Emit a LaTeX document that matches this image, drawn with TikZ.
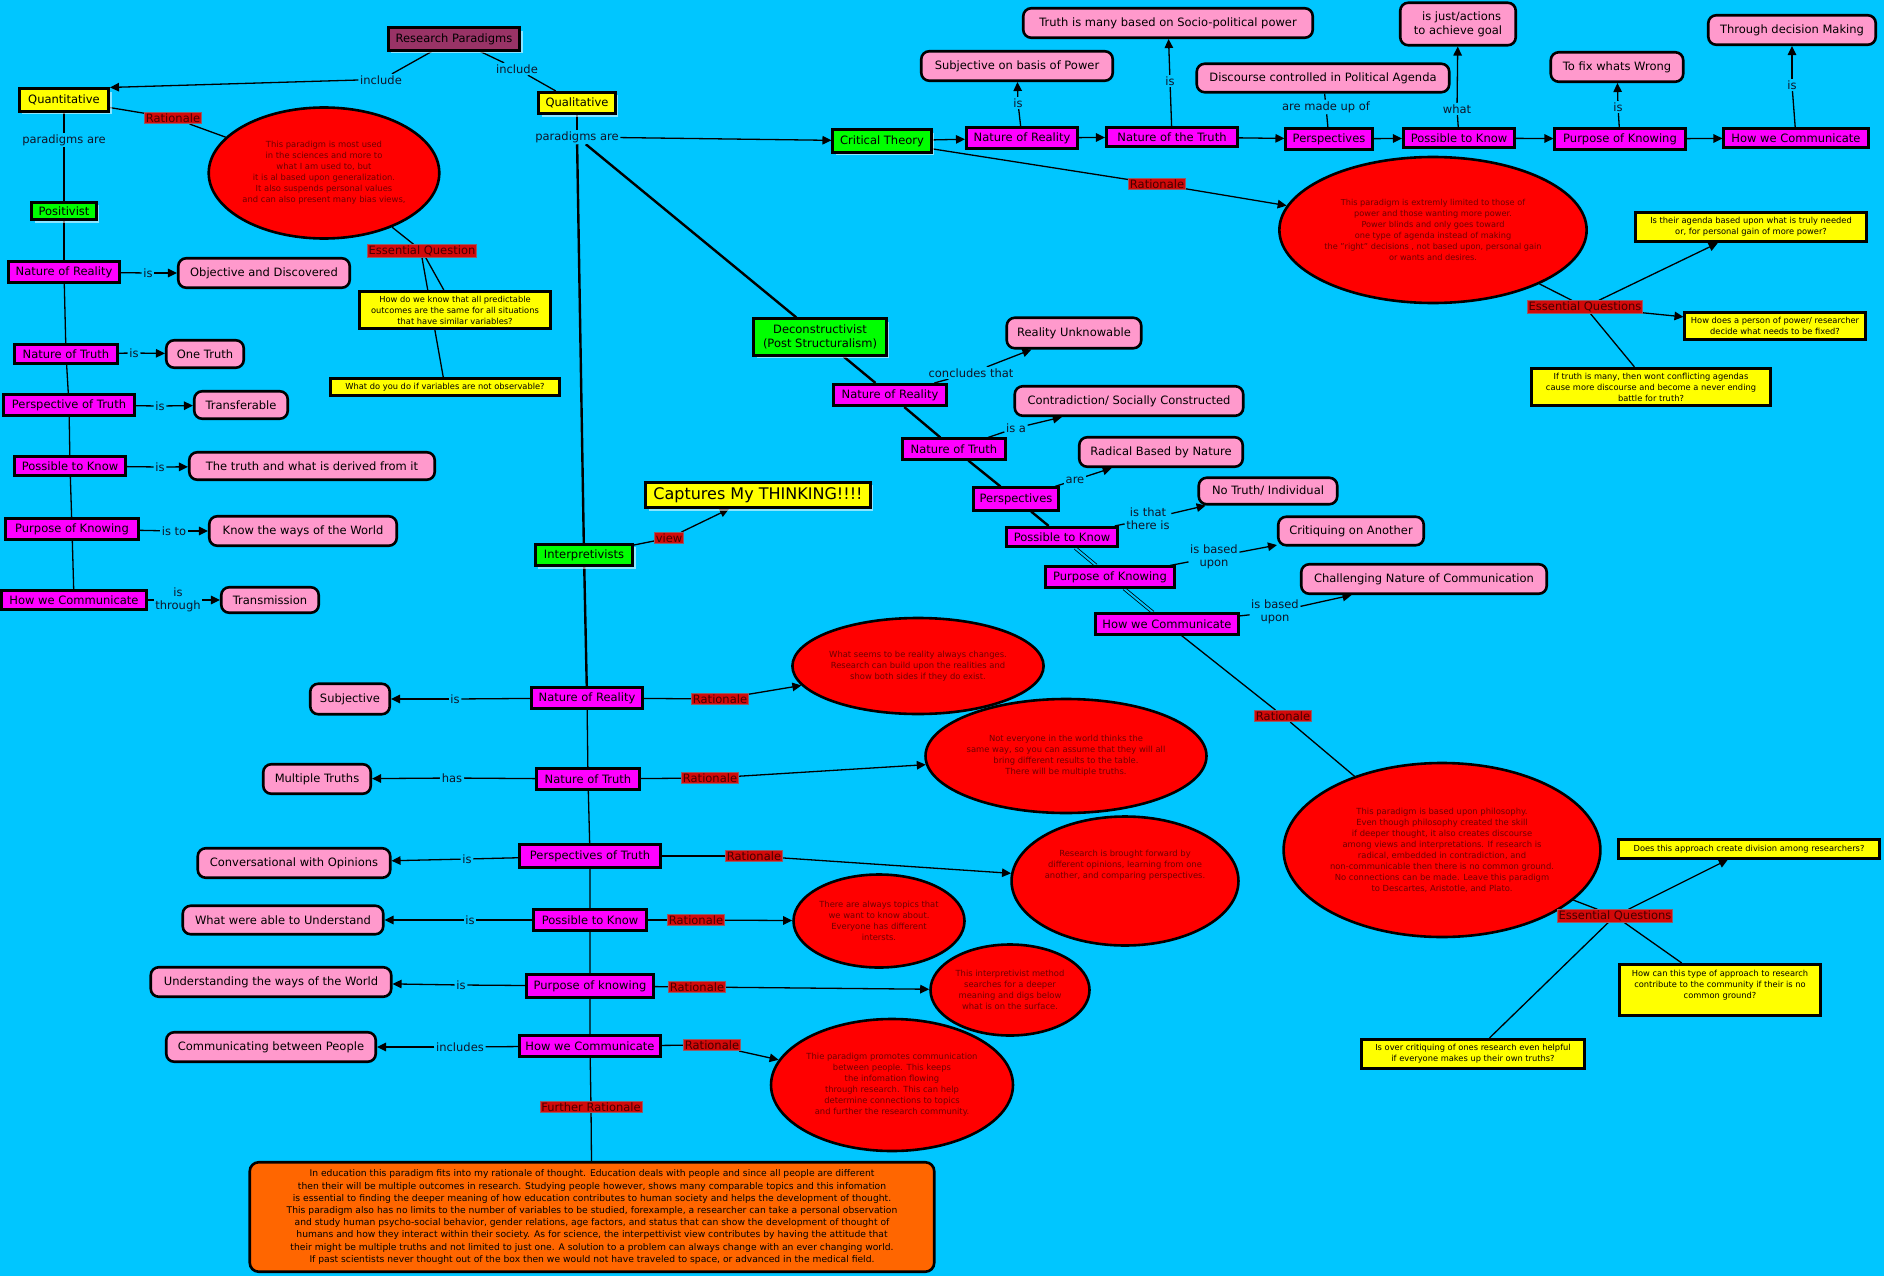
\documentclass[tikz,border=0pt]{standalone}
\usepackage{fontspec}
\setmainfont{DejaVu Sans}
\usetikzlibrary{shapes.geometric,arrows.meta,shadows}
\definecolor{bgc}{RGB}{0,198,255}
\definecolor{rpc}{RGB}{153,51,102}
\definecolor{yelc}{RGB}{255,255,0}
\definecolor{grnc}{RGB}{0,255,0}
\definecolor{magc}{RGB}{255,0,255}
\definecolor{pnkc}{RGB}{255,153,204}
\definecolor{orc}{RGB}{255,102,0}
\definecolor{rlc}{RGB}{210,10,10}
\definecolor{rld}{RGB}{150,90,100}
\definecolor{rlt}{RGB}{70,0,0}
\definecolor{elt}{RGB}{110,0,0}
\definecolor{lkc}{RGB}{15,20,40}
\newcommand\fsz[2]{\fontsize{#1pt}{#2pt}\selectfont}
\pgfdeclarelayer{back}\pgfdeclarelayer{edges}\pgfsetlayers{back,edges,main}
\tikzset{
  wh/.style 2 args={minimum width={#1pt-2.5pt},minimum height={#2pt-2.5pt}},
  box/.style={draw=black,line width=2.6pt,inner sep=1pt,align=center,font=\fsz{11.5}{14},text=black},
  shd/.style={drop shadow={shadow xshift=3pt,shadow yshift=-3pt,fill=white,opacity=0.55}},
  yel/.style={box,fill=yelc,shd},
  grn/.style={box,fill=grnc,shd},
  mag/.style={box,fill=magc},
  pnk/.style={box,fill=pnkc,rounded corners=8pt},
  qs/.style={box,fill=yelc,font=\fsz{8.3}{11}},
  el/.style={ellipse,draw=black,line width=2.6pt,fill=red,inner sep=0pt,align=center,text=elt,font=\fsz{8.4}{11}},
  lk/.style={fill=bgc,inner sep=1.5pt,text=lkc,font=\fsz{11.5}{13},align=center},
  rl/.style={fill=rlc,draw=rld,line width=0.8pt,inner sep=1.2pt,text=rlt,font=\fsz{11.5}{13}},
  cn/.style={line width=1.3pt,draw=black},
  ar/.style={cn,-{Triangle[length=9pt,width=8.5pt]}},
  tk/.style={line width=2.4pt,draw=black},
  dbl/.style={draw=black,double=bgc,double distance=2pt,line width=0.8pt}
}
\begin{document}
\begin{tikzpicture}[x=1pt,y=-1pt]
\begin{pgfonlayer}{back}
\fill[bgc] (0,0) rectangle (1884,1276);
\end{pgfonlayer}
\useasboundingbox (0,0) rectangle (1884,1276);

% ---------- top ----------
\node[box,fill=rpc,shd,wh={134}{25}] (rp) at (454,39) {Research Paradigms};
\node[yel,wh={92}{25}] (quant) at (64,100) {Quantitative};
\node[yel,wh={79}{24}] (qual) at (577,103) {Qualitative};
\node[lk] (inclL) at (381,80) {include};
\node[lk] (inclR) at (517,69) {include};
\node[lk] (parQ) at (64,140) {paradigms are};
\node[lk] (parL) at (577,137) {paradigms are};
\node[grn,wh={67}{20}] (posit) at (64,211) {Positivist};

% ---------- quantitative rationale ----------
\node[rl] (ratQ) at (173,118) {Rationale};
\node[el,minimum width=226pt,minimum height=131pt] (ellQ) at (324,173) {This paradigm is most used\\in the sciences and more to\\what I am used to, but\\it is al based upon generalization.\\It also suspends personal values\\and can also present many bias views,};
\node[rl] (eqQ) at (422,251) {Essential Question};
\node[qs,wh={194}{40}] (q1) at (455,310) {How do we know that all predictable\\outcomes are the same for all situations\\that have similar variables?};
\node[qs,wh={232}{20}] (q2) at (445,387) {What do you do if variables are not observable?};

% ---------- quantitative chain ----------
\node[mag,wh={114}{24}] (qnr) at (64,272) {Nature of Reality};
\node[lk] (qnrIs) at (148,273) {is};
\node[pnk,wh={174}{32}] (qnrT) at (264,273) {Objective and Discovered};
\node[mag,wh={106}{22}] (qnt) at (66,354) {Nature of Truth};
\node[lk] (qntIs) at (134,353) {is};
\node[pnk,wh={80}{30}] (qntT) at (205,354) {One Truth};
\node[mag,wh={134}{23}] (qpt) at (69,405) {Perspective of Truth};
\node[lk] (qptIs) at (160,406) {is};
\node[pnk,wh={96}{30}] (qptT) at (241,405) {Transferable};
\node[mag,wh={114}{22}] (qpk) at (70,466) {Possible to Know};
\node[lk] (qpkIs) at (160,467) {is};
\node[pnk,wh={248}{30}] (qpkT) at (312,466) {The truth and what is derived from it};
\node[mag,wh={136}{24}] (qpo) at (72,529) {Purpose of Knowing};
\node[lk] (qpoIs) at (174,531) {is to};
\node[pnk,wh={190}{32}] (qpoT) at (303,531) {Know the ways of the World};
\node[mag,wh={148}{22}] (qhc) at (74,600) {How we Communicate};
\node[lk] (qhcIs) at (178,600) {is\\through};
\node[pnk,wh={100}{28}] (qhcT) at (270,600) {Transmission};

% ---------- critical theory ----------
\node[grn,wh={101}{25}] (ct) at (882,141) {Critical Theory};
\node[mag,wh={114}{24}] (cnr) at (1022,138) {Nature of Reality};
\node[lk] (cnrIs) at (1018,103) {is};
\node[pnk,wh={194}{32}] (cnrT) at (1017,66) {Subjective on basis of Power};
\node[mag,wh={134}{22}] (cnt) at (1172,137) {Nature of the Truth};
\node[lk] (cntIs) at (1170,81) {is};
\node[pnk,wh={292}{32}] (cntT) at (1168,23) {Truth is many based on Socio-political power};
\node[mag,wh={89}{24}] (cpe) at (1329,139) {Perspectives};
\node[lk] (cpeIs) at (1326,107) {are made up of};
\node[pnk,wh={255}{31}] (cpeT) at (1323,78) {Discourse controlled in Political Agenda};
\node[mag,wh={114}{22}] (cpk) at (1459,138) {Possible to Know};
\node[lk] (cpkIs) at (1457,109) {what};
\node[pnk,wh={118}{45}] (cpkT) at (1458,24) {\ \ is just/actions\\to achieve goal};
\node[mag,wh={133}{24}] (cpo) at (1620,139) {Purpose of Knowing};
\node[lk] (cpoIs) at (1618,107) {is};
\node[pnk,wh={135}{32}] (cpoT) at (1617,67) {To fix whats Wrong};
\node[mag,wh={147}{22}] (chc) at (1796,138) {How we Communicate};
\node[lk] (chcIs) at (1792,85) {is};
\node[pnk,wh={170}{32}] (chcT) at (1792,30) {Through decision Making};
\node[rl] (ratC) at (1157,184) {Rationale};
\node[el,minimum width=287pt,minimum height=146pt,font=\fsz{8.2}{11}] (ellC) at (1433,230) {This paradigm is extremly limited to those of\\power and those wanting more power.\\Power blinds and only goes toward\\one type of agenda instead of making\\the "right" decisions , not based upon, personal gain\\or wants and desires.};
\node[rl] (eqC) at (1585,307) {Essential Questions};
\node[qs,wh={233}{32}] (cq1) at (1751,227) {Is their agenda based upon what is truly needed\\or, for personal gain of more power?};
\node[qs,wh={183}{30}] (cq2) at (1775,326) {How does a person of power/ researcher\\decide what needs to be fixed?};
\node[qs,wh={241}{40}] (cq3) at (1651,387) {If truth is many, then wont conflicting agendas\\cause more discourse and become a never ending\\battle for truth?};

% ---------- deconstructivist ----------
\node[grn,wh={135}{39}] (dec) at (820,337) {Deconstructivist\\(Post Structuralism)};
\node[mag,wh={116}{24}] (dnr) at (890,395) {Nature of Reality};
\node[lk] (dnrIs) at (971,373) {concludes that};
\node[pnk,wh={137}{33}] (dnrT) at (1074,333) {Reality Unknowable};
\node[mag,wh={106}{23}] (dnt) at (954,449) {Nature of Truth};
\node[lk] (dntIs) at (1016,428) {is a};
\node[pnk,wh={231}{32}] (dntT) at (1129,401) {Contradiction/ Socially Constructed};
\node[mag,wh={88}{25}] (dpe) at (1016,499) {Perspectives};
\node[lk] (dpeIs) at (1075,480) {are};
\node[pnk,wh={166}{32}] (dpeT) at (1161,452) {Radical Based by Nature};
\node[mag,wh={114}{22}] (dpk) at (1062,537) {Possible to Know};
\node[lk] (dpkIs) at (1148,519) {is that\\there is};
\node[pnk,wh={141}{29}] (dpkT) at (1268,491) {No Truth/ Individual};
\node[mag,wh={131}{23}] (dpo) at (1110,577) {Purpose of Knowing};
\node[lk] (dpoIs) at (1214,557) {is based\\upon};
\node[pnk,wh={148}{31}] (dpoT) at (1351,531) {Critiquing on Another};
\node[mag,wh={146}{23}] (dhc) at (1167,624) {How we Communicate};
\node[lk] (dhcIs) at (1275,612) {is based\\upon};
\node[pnk,wh={248}{32}] (dhcT) at (1424,579) {Challenging Nature of Communication};
\node[rl] (ratD) at (1283,716) {Rationale};
\node[el,minimum width=309pt,minimum height=174pt] (ellD) at (1442,850) {This paradigm is based upon philosophy.\\Even though philosophy created the skill\\if deeper thought, it also creates discourse\\among views and interpretations. If research is\\radical, embedded in contradiction, and\\non-communicable then there is no common ground.\\No connections can be made. Leave this paradigm\\to Descartes, Aristotle, and Plato.};
\node[rl] (eqD) at (1615,916) {Essential Questions};
\node[qs,wh={263}{21}] (dq1) at (1749,849) {Does this approach create division among researchers?};
\node[qs,wh={204}{54}] (dq2) at (1720,990) {How can this type of approach to research\\contribute to the community if their is no\\common ground?\\~};
\node[qs,wh={226}{32}] (dq3) at (1473,1054) {Is over critiquing of ones research even helpful\\if everyone makes up their own truths?};

% ---------- interpretivists ----------
\node[grn,wh={100}{24}] (int) at (584,555) {Interpretivists};
\node[rl] (intV) at (669,538) {view};
\node[yel,wh={227}{28},font=\fsz{16}{18}] (cap) at (758,495) {Captures My THINKING!!!!};

\node[mag,wh={114}{24}] (inr) at (587,698) {Nature of Reality};
\node[lk] (inrIs) at (455,699) {is};
\node[pnk,wh={82}{33}] (inrT) at (350,699) {Subjective};
\node[rl] (inrR) at (720,699) {Rationale};
\node[el,minimum width=223pt,minimum height=96pt] (ell1) at (918,666) {What seems to be reality always changes.\\Research can build upon the realities and\\show both sides if they do exist.};

\node[mag,wh={106}{23}] (int2) at (588,779) {Nature of Truth};
\node[lk] (int2Is) at (452,778) {has};
\node[pnk,wh={110}{32}] (int2T) at (317,779) {Multiple Truths};
\node[rl] (int2R) at (710,778) {Rationale};
\node[el,minimum width=256pt,minimum height=114pt] (ell2) at (1066,756) {Not everyone in the world thinks the\\same way, so you can assume that they will all\\bring different results to the table.\\There will be multiple truths.};

\node[mag,wh={144}{25}] (ipt) at (590,856) {Perspectives of Truth};
\node[lk] (iptIs) at (467,859) {is};
\node[pnk,wh={195}{32}] (iptT) at (294,863) {Conversational with Opinions};
\node[rl] (iptR) at (754,856) {Rationale};
\node[el,minimum width=226pt,minimum height=129pt] (ell3) at (1125,881) {Research is brought forward by\\different opinions, learning from one\\another, and comparing perspectives.\\~\\~\\~};

\node[mag,wh={115}{23}] (ipk) at (590,920) {Possible to Know};
\node[lk] (ipkIs) at (470,920) {is};
\node[pnk,wh={203}{31}] (ipkT) at (283,920) {What were able to Understand};
\node[rl] (ipkR) at (696,920) {Rationale};
\node[el,minimum width=171pt,minimum height=93pt] (ell4) at (879,921) {There are always topics that\\we want to know about.\\Everyone has different\\intersts.};

\node[mag,wh={129}{25}] (ipo) at (590,986) {Purpose of knowing};
\node[lk] (ipoIs) at (461,985) {is};
\node[pnk,wh={243}{32}] (ipoT) at (271,982) {Understanding the ways of the World};
\node[rl] (ipoR) at (697,987) {Rationale};
\node[el,minimum width=159pt,minimum height=91pt] (ell5) at (1010,990) {This interpretivist method\\searches for a deeper\\meaning and digs below\\what is on the surface.};

\node[mag,wh={144}{23}] (ihc) at (590,1046) {How we Communicate};
\node[lk] (ihcIs) at (460,1047) {includes};
\node[pnk,wh={212}{32}] (ihcT) at (271,1047) {Communicating between People};
\node[rl] (ihcR) at (712,1045) {Rationale};
\node[el,minimum width=234pt,minimum height=132pt] (ell6) at (892,1085) {Thie paradigm promotes communication\\between people. This keeps\\the infomation flowing\\through research. This can help\\determine connections to topics\\and further the research community.};

\node[rl] (furR) at (591,1107) {Further Rationale};
\node[box,fill=orc,rounded corners=9pt,wh={687}{112},font=\fsz{9.2}{12.2}] (orange) at (592,1217) {In education this paradigm fits into my rationale of thought. Education deals with people and since all people are different\\then their will be multiple outcomes in research. Studying people however, shows many comparable topics and this infomation\\is essential to finding the deeper meaning of how education contributes to human society and helps the development of thought.\\This paradigm also has no limits to the number of variables to be studied, forexample, a researcher can take a personal observation\\and study human psycho-social behavior, gender relations, age factors, and status that can show the development of thought of\\humans and how they interact within their society. As for science, the interpettivist view contributes by having the attitude that\\their might be multiple truths and not limited to just one. A solution to a problem can always change with an ever changing world.\\If past scientists never thought out of the box then we would not have traveled to space, or advanced in the medical field.};

% ---------- connectors ----------
\begin{pgfonlayer}{edges}
\draw[cn] (rp) -- (inclL);
\draw[ar] (inclL.west) -- (quant.north east);
\draw[cn] (rp) -- (inclR) -- (qual);
\draw[cn] (quant) -- (parQ) -- (posit);
\draw[cn] (quant) -- (ratQ) -- (ellQ);
\draw[cn] (ellQ) -- (eqQ);
\draw[cn] (eqQ.south) -- (q2);
\draw[cn] (eqQ) -- (q1);
\draw[tk] (posit) -- (qnr);
\draw[cn] (qnr) -- (qnt) -- (qpt) -- (qpk) -- (qpo) -- (qhc);
\draw[cn] (qnr) -- (qnrIs); \draw[ar] (qnrIs) -- (qnrT);
\draw[cn] (qnt) -- (qntIs); \draw[ar] (qntIs) -- (qntT);
\draw[cn] (qpt) -- (qptIs); \draw[ar] (qptIs) -- (qptT);
\draw[cn] (qpk) -- (qpkIs); \draw[ar] (qpkIs) -- (qpkT);
\draw[cn] (qpo) -- (qpoIs); \draw[ar] (qpoIs) -- (qpoT);
\draw[cn] (qhc) -- (qhcIs); \draw[ar] (qhcIs) -- (qhcT);

\draw[cn] (qual) -- (parL);
\draw[ar] (parL) -- (ct);
\draw[tk] (parL) -- (dec);
\draw[tk] (parL) -- (int);

\draw[ar] (ct) -- (cnr);
\draw[ar] (cnr) -- (cnt);
\draw[ar] (cnt) -- (cpe);
\draw[ar] (cpe) -- (cpk);
\draw[ar] (cpk) -- (cpo);
\draw[ar] (cpo) -- (chc);
\draw[cn] (cnr) -- (cnrIs); \draw[ar] (cnrIs) -- (cnrT);
\draw[cn] (cnt) -- (cntIs); \draw[ar] (cntIs) -- (cntT);
\draw[cn] (cpe) -- (cpeIs) -- (cpeT);
\draw[cn] (cpk) -- (cpkIs); \draw[ar] (cpkIs) -- (cpkT);
\draw[cn] (cpo) -- (cpoIs); \draw[ar] (cpoIs) -- (cpoT);
\draw[cn] (chc) -- (chcIs); \draw[ar] (chcIs) -- (chcT);
\draw[cn] (ct) -- (ratC); \draw[ar] (ratC) -- (ellC);
\draw[cn] (ellC) -- (eqC);
\draw[ar] (eqC) -- (cq1);
\draw[ar] (eqC) -- (cq2);
\draw[cn] (eqC) -- (cq3);

\draw[tk] (dec) -- (dnr) -- (dnt) -- (dpe) -- (dpk);
\draw[dbl] (dpk) -- (dpo);
\draw[dbl] (dpo) -- (dhc);
\draw[cn] (dnr) -- (dnrIs); \draw[ar] (dnrIs) -- (dnrT);
\draw[cn] (dnt) -- (dntIs); \draw[ar] (dntIs) -- (dntT);
\draw[cn] (dpe) -- (dpeIs); \draw[ar] (dpeIs) -- (dpeT);
\draw[cn] (dpk) -- (dpkIs); \draw[ar] (dpkIs) -- (dpkT);
\draw[cn] (dpo) -- (dpoIs); \draw[ar] (dpoIs) -- (dpoT);
\draw[cn] (dhc) -- (dhcIs); \draw[ar] (dhcIs) -- (dhcT);
\draw[cn] (dhc) -- (ratD) -- (ellD);
\draw[cn] (ellD) -- (eqD);
\draw[ar] (eqD) -- (dq1);
\draw[cn] (eqD) -- (dq2);
\draw[cn] (eqD) -- (dq3);

\draw[cn] (int) -- (intV); \draw[ar] (intV) -- (cap);
\draw[tk] (int) -- (inr);
\draw[cn] (inr) -- (int2) -- (ipt) -- (ipk) -- (ipo) -- (ihc);
\draw[cn] (ihc) -- (furR) -- (orange);
\draw[cn] (inr) -- (inrIs); \draw[ar] (inrIs) -- (inrT);
\draw[cn] (int2) -- (int2Is); \draw[ar] (int2Is) -- (int2T);
\draw[cn] (ipt) -- (iptIs); \draw[ar] (iptIs) -- (iptT);
\draw[cn] (ipk) -- (ipkIs); \draw[ar] (ipkIs) -- (ipkT);
\draw[cn] (ipo) -- (ipoIs); \draw[ar] (ipoIs) -- (ipoT);
\draw[cn] (ihc) -- (ihcIs); \draw[ar] (ihcIs) -- (ihcT);
\draw[cn] (inr) -- (inrR); \draw[ar] (inrR) -- (ell1);
\draw[cn] (int2) -- (int2R); \draw[ar] (int2R) -- (ell2);
\draw[cn] (ipt) -- (iptR); \draw[ar] (iptR) -- (ell3);
\draw[cn] (ipk) -- (ipkR); \draw[ar] (ipkR) -- (ell4);
\draw[cn] (ipo) -- (ipoR); \draw[ar] (ipoR) -- (ell5);
\draw[cn] (ihc) -- (ihcR); \draw[ar] (ihcR) -- (ell6);
\end{pgfonlayer}
\end{tikzpicture}
\end{document}
